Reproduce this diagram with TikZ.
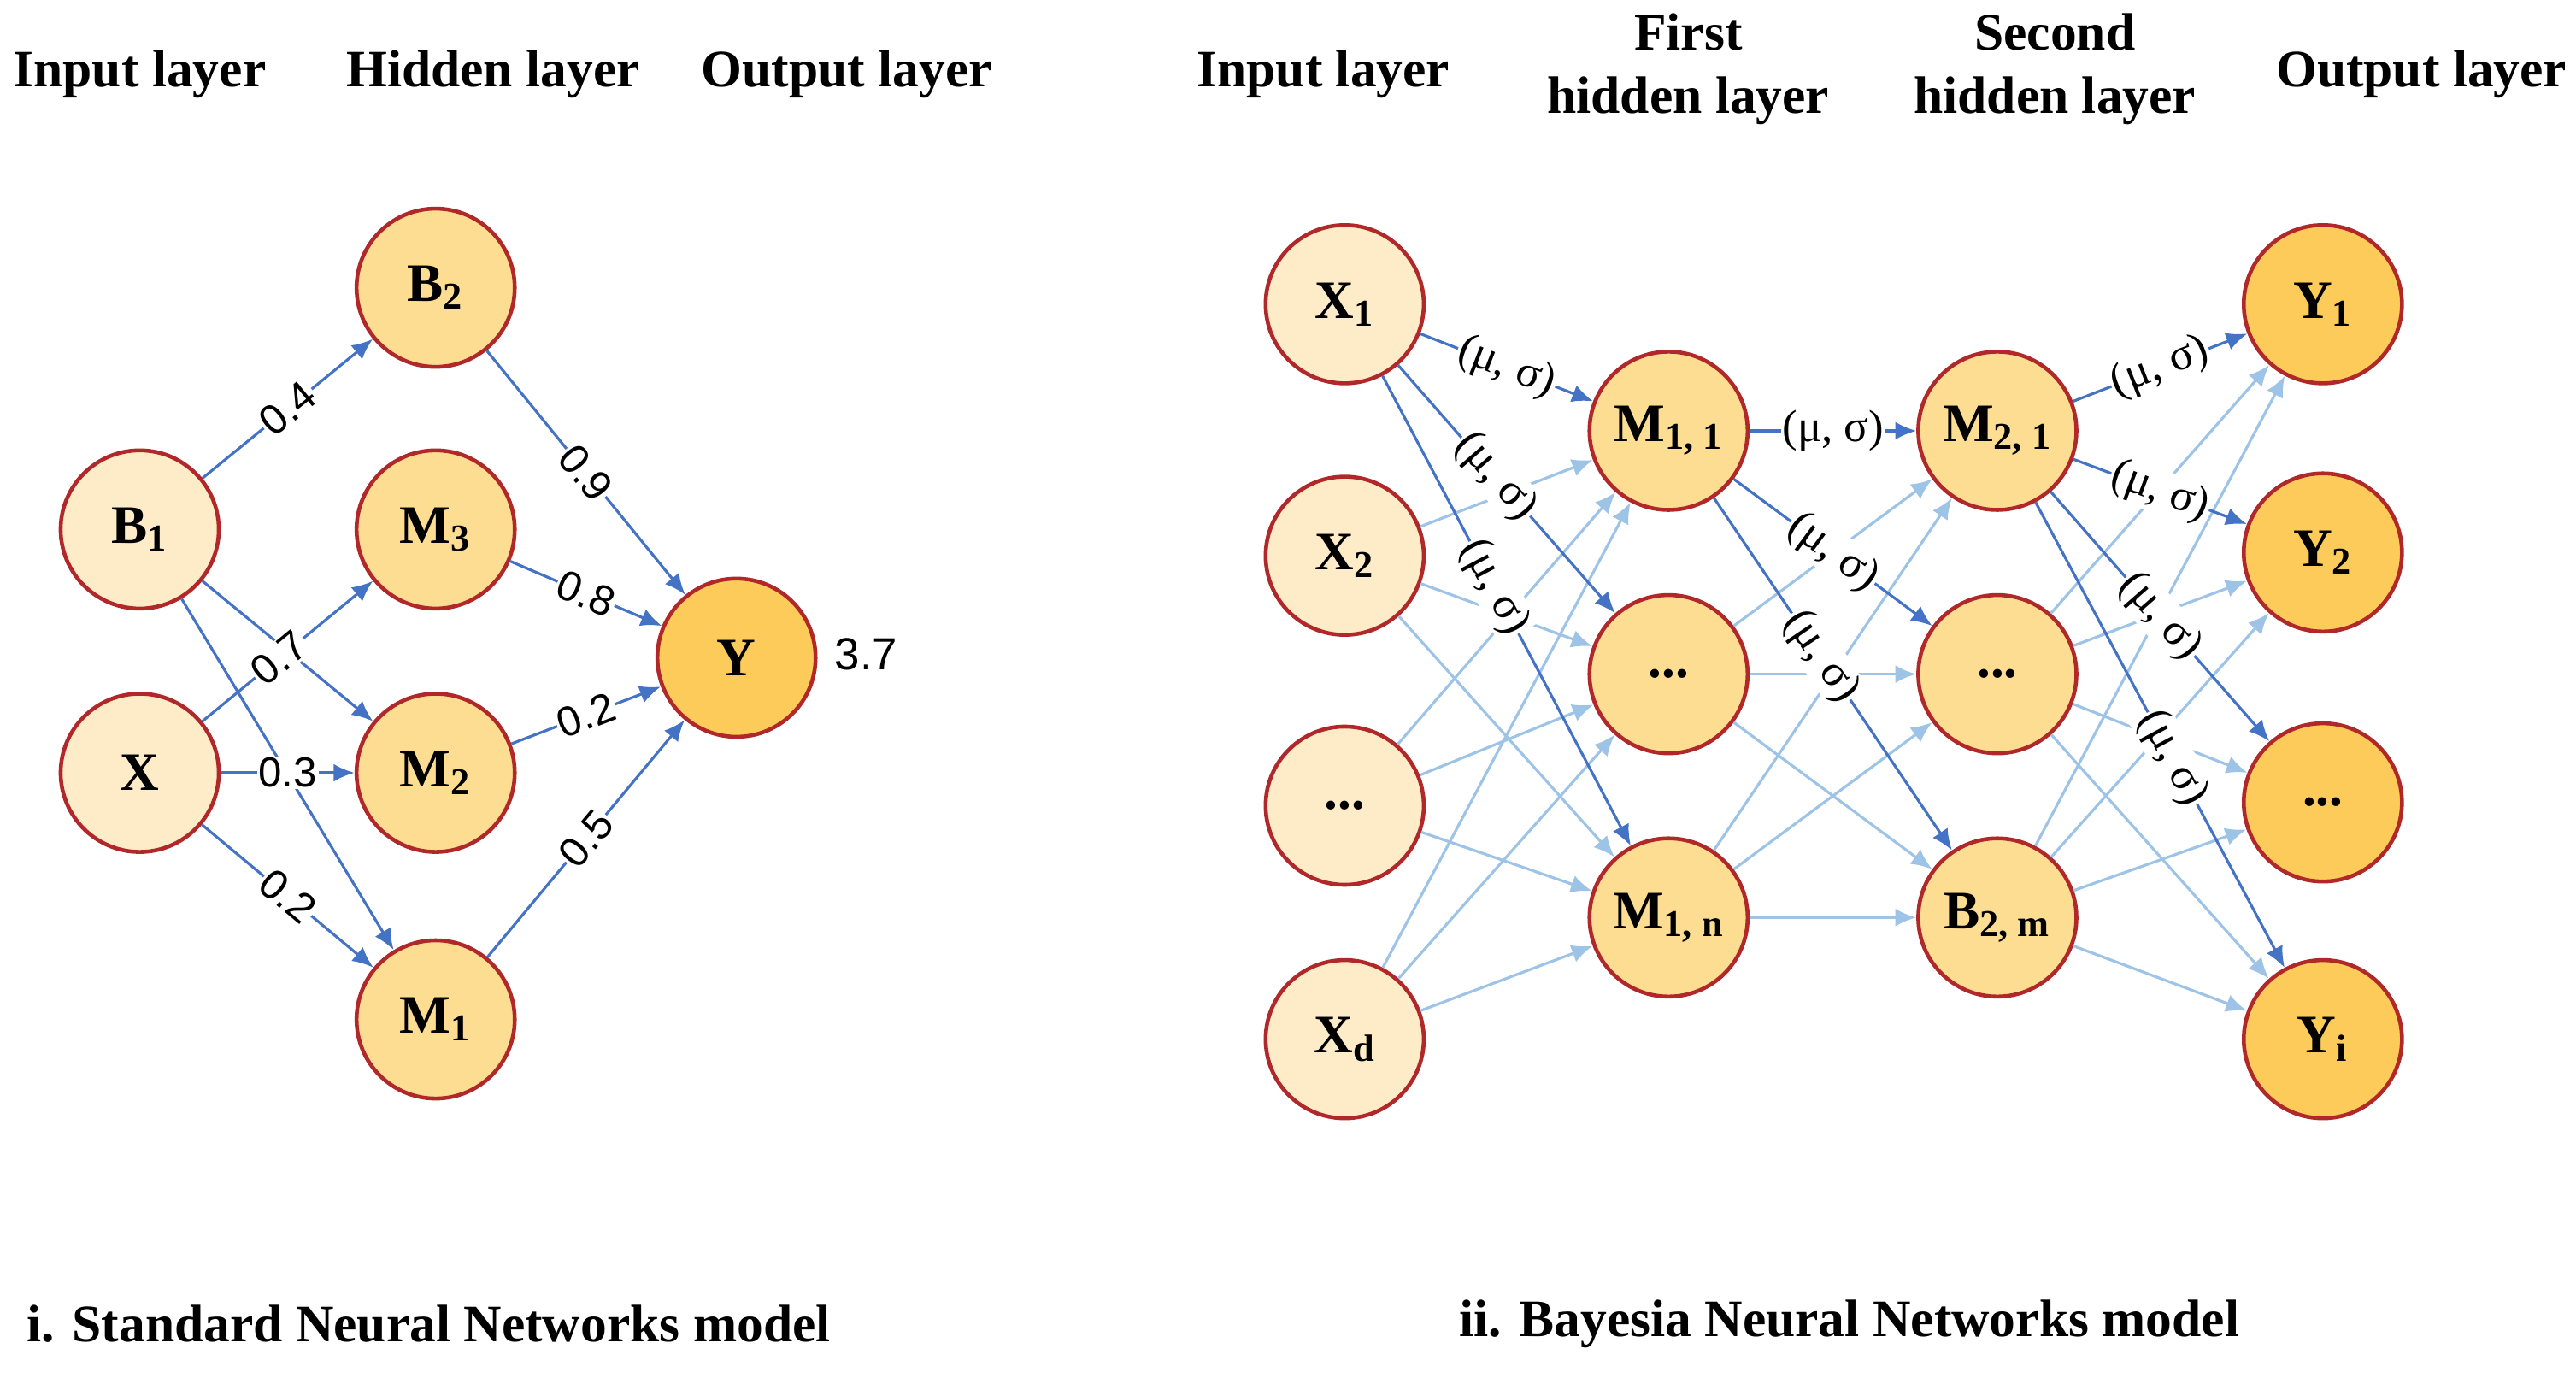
\documentclass[tikz,border=0pt]{standalone}
\usepackage{fontspec}
\setmainfont{Liberation Serif}
\newfontfamily\numfont{Liberation Sans}
\usetikzlibrary{arrows.meta}
\definecolor{ringred}{HTML}{B0282A}
\definecolor{fillpale}{HTML}{FEEBC8}
\definecolor{fillmid}{HTML}{FDDD92}
\definecolor{filldeep}{HTML}{FCCB5A}
\definecolor{edgedark}{HTML}{4472C4}
\definecolor{edgelight}{HTML}{9DC3E6}
\tikzset{
  neuron/.style={circle,draw=ringred,line width=1.3pt,minimum size=1.85cm,inner sep=0pt,font=\fontsize{18}{18}\selectfont\bfseries},
  head/.style={font=\fontsize{17.5}{21}\selectfont\bfseries,align=center},
  wt/.style={font=\numfont\fontsize{14}{14}\selectfont,text=black,fill=white,inner sep=0.5pt,sloped},
  ms/.style={font=\fontsize{15}{15}\selectfont,text=black,fill=white,inner sep=0.5pt,sloped},
  dark/.style={-{Latex[length=7pt,width=6pt]},edgedark,line width=0.9pt},
  light/.style={-{Latex[length=7pt,width=6pt]},edgelight,line width=0.9pt}
}
\begin{document}
\begin{tikzpicture}[x=0.01923cm,y=-0.01923cm]
        \useasboundingbox (0,0) rectangle (1567,838);
        % Standard network
        \node[head] at (85,45) {Input layer};
        \node[head] at (300,45) {Hidden layer};
        \node[head] at (515,45) {Output layer};
        \node[neuron,fill=fillpale] (B1) at (85,322) {B\textsubscript{1}};
        \node[neuron,fill=fillpale] (X) at (85,470) {X};
        \node[neuron,fill=fillmid] (B2) at (265,175) {B\textsubscript{2}};
        \node[neuron,fill=fillmid] (M3) at (265,322) {M\textsubscript{3}};
        \node[neuron,fill=fillmid] (M2) at (265,470) {M\textsubscript{2}};
        \node[neuron,fill=fillmid] (M1) at (265,620) {M\textsubscript{1}};
        \node[neuron,fill=filldeep] (Y) at (448,400) {Y};
        \node[font=\numfont\fontsize{15}{15}\selectfont] (out) at (527,398) {3.7};
        \draw[dark] (B1) -- (B2) node[wt,pos=0.5] {0.4};
        \draw[dark] (B1) -- (M2);
        \draw[dark] (B1) -- (M1);
        \draw[dark] (X) -- (M3) node[wt,pos=0.45] {0.7};
        \draw[dark] (X) -- (M2) node[wt,pos=0.5] {0.3};
        \draw[dark] (X) -- (M1) node[wt,pos=0.5] {0.2};
        \draw[dark] (B2) -- (Y) node[wt,pos=0.5] {0.9};
        \draw[dark] (M3) -- (Y) node[wt,pos=0.5] {0.8};
        \draw[dark] (M2) -- (Y) node[wt,pos=0.5] {0.2};
        \draw[dark] (M1) -- (Y) node[wt,pos=0.5] {0.5};
        \node[head,anchor=west] at (10,805) {i. Standard Neural Networks model};

        % Bayesian network
        \node[head] at (805,45) {Input layer};
        \node[head] at (1027,42) {First\\hidden layer};
        \node[head] at (1250,42) {Second\\hidden layer};
        \node[head] at (1473,45) {Output layer};
        \node[neuron,fill=fillpale] (I1) at (818,185) {X\textsubscript{1}};
        \node[neuron,fill=fillpale] (I2) at (818,338) {X\textsubscript{2}};
        \node[neuron,fill=fillpale] (I3) at (818,490) {...};
        \node[neuron,fill=fillpale] (I4) at (818,632) {X\textsubscript{d}};
        \node[neuron,fill=fillmid] (H1) at (1015,262) {M\textsubscript{1, 1}};
        \node[neuron,fill=fillmid] (H2) at (1015,410) {...};
        \node[neuron,fill=fillmid] (H3) at (1015,558) {M\textsubscript{1, n}};
        \node[neuron,fill=fillmid] (G1) at (1215,262) {M\textsubscript{2, 1}};
        \node[neuron,fill=fillmid] (G2) at (1215,410) {...};
        \node[neuron,fill=fillmid] (G3) at (1215,558) {B\textsubscript{2, m}};
        \node[neuron,fill=filldeep] (O1) at (1413,185) {Y\textsubscript{1}};
        \node[neuron,fill=filldeep] (O2) at (1413,336) {Y\textsubscript{2}};
        \node[neuron,fill=filldeep] (O3) at (1413,488) {...};
        \node[neuron,fill=filldeep] (O4) at (1413,632) {Y\textsubscript{i}};
        \foreach \i in {2,3,4}
            \foreach \j in {1,2,3}
                \draw[light] (I\i) -- (H\j);
        \foreach \i in {2,3}
            \foreach \j in {1,2,3}
                \draw[light] (H\i) -- (G\j);
        \foreach \i in {2,3}
            \foreach \j in {1,2,3,4}
                \draw[light] (G\i) -- (O\j);
        \draw[dark] (I1) -- (H1) node[ms,pos=0.5] {(μ, σ)};
        \draw[dark] (I1) -- (H2) node[ms,pos=0.45] {(μ, σ)};
        \draw[dark] (I1) -- (H3) node[ms,pos=0.45] {(μ, σ)};
        \draw[dark] (H1) -- (G1) node[ms,pos=0.5] {(μ, σ)};
        \draw[dark] (H1) -- (G2) node[ms,pos=0.5] {(μ, σ)};
        \draw[dark] (H1) -- (G3) node[ms,pos=0.45] {(μ, σ)};
        \draw[dark] (G1) -- (O1) node[ms,pos=0.5] {(μ, σ)};
        \draw[dark] (G1) -- (O2) node[ms,pos=0.5] {(μ, σ)};
        \draw[dark] (G1) -- (O3) node[ms,pos=0.5] {(μ, σ)};
        \draw[dark] (G1) -- (O4) node[ms,pos=0.55] {(μ, σ)};
        \node[head] at (1125,805) {ii. Bayesia Neural Networks model};
\end{tikzpicture}
\end{document}
